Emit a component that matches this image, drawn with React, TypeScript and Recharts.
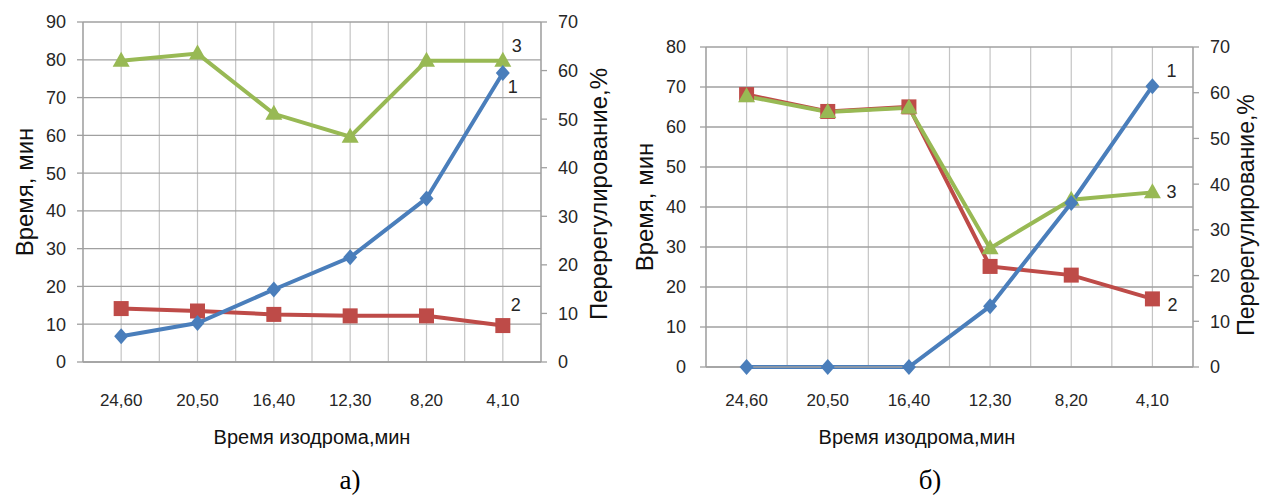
import React from "react";
import { LineChart, Line, XAxis, YAxis, CartesianGrid, LabelList } from "recharts";

const categories = ["24,60", "20,50", "16,40", "12,30", "8,20", "4,10"];

// panel а)
const timeA = [6.8, 10.3, 19.2, 27.7, 43.3, 76.5];
const curve2A = [11.0, 10.5, 9.8, 9.5, 9.5, 7.5];
const curve3A = [62.0, 63.5, 51.1, 46.4, 62.0, 62.0];
const leftTicksA = [0, 10, 20, 30, 40, 50, 60, 70, 80, 90];

// panel б)
const timeB = [0, 0, 0, 15.2, 41, 70.2];
const curve2B = [59.6, 55.9, 56.9, 22.0, 20.1, 14.9];
const curve3B = [59.2, 55.8, 56.7, 26.0, 36.6, 38.2];
const leftTicksB = [0, 10, 20, 30, 40, 50, 60, 70, 80];

const rightTicks = [0, 10, 20, 30, 40, 50, 60, 70];

const BLUE = "#4A7EBB";
const RED = "#BE4B48";
const GREEN = "#98B954";
const FONT = "'Liberation Sans', Arial, sans-serif";
const TEXT = "#262626";

// half-step ticks so the grid gets lines at centres and boundaries
const xTicks = categories.flatMap((_, i) => [i - 0.5, i]).concat(categories.length - 0.5);
const xLabel = (v: number) => (Number.isInteger(v) ? categories[v] ?? "" : "");

const buildRows = (s1: number[], s2: number[], s3: number[]) =>
  categories.map((c, i) => ({ x: i, cat: c, s1: s1[i], s2: s2[i], s3: s3[i] }));

const diamond = (p: any) =>
  p.cx == null ? null : (
    <path
      key={`d${p.index}`}
      d={`M${p.cx},${p.cy - 8}L${p.cx + 7},${p.cy}L${p.cx},${p.cy + 8}L${p.cx - 7},${p.cy}Z`}
      fill={BLUE}
    />
  );

const square = (p: any) =>
  p.cx == null ? null : (
    <rect key={`s${p.index}`} x={p.cx - 7.5} y={p.cy - 7.5} width={15} height={15} fill={RED} />
  );

const triangle = (p: any) =>
  p.cx == null ? null : (
    <path
      key={`t${p.index}`}
      d={`M${p.cx},${p.cy - 9}L${p.cx + 8.5},${p.cy + 6}L${p.cx - 8.5},${p.cy + 6}Z`}
      fill={GREEN}
    />
  );

const endLabel = (text: string, dx: number, dy: number) => (props: any) => {
  if (props.index !== categories.length - 1) return null;
  const x = props.x ?? props.viewBox?.x;
  const y = props.y ?? props.viewBox?.y;
  return (
    <text
      x={x + dx}
      y={y + dy}
      textAnchor="middle"
      dominantBaseline="central"
      fontSize={18}
      fontFamily={FONT}
      fill={TEXT}
    >
      {text}
    </text>
  );
};

interface PanelProps {
  rows: ReturnType<typeof buildRows>;
  width: number;
  margin: { top: number; right: number; bottom: number; left: number };
  leftMax: number;
  leftTicks: number[];
  leftWidth: number;
  leftTickMargin: number;
  rightWidth: number;
  xTickMargin: number;
  labels: { s1: [number, number]; s2: [number, number]; s3: [number, number] };
}

function Panel(p: PanelProps) {
  const tick = { fontSize: 17, fill: TEXT, fontFamily: FONT };
  return (
    <LineChart width={p.width} height={497} data={p.rows} margin={p.margin}>
      <CartesianGrid yAxisId="left" horizontal={false} stroke="#C4C4C4" strokeWidth={1.2} />
      <CartesianGrid yAxisId="left" vertical={false} stroke="#A0A0A0" strokeWidth={1.3} />
      <XAxis
        dataKey="x"
        type="number"
        domain={[-0.5, categories.length - 0.5]}
        ticks={xTicks}
        interval={0}
        tickFormatter={xLabel}
        tickLine={false}
        axisLine={{ stroke: "#A0A0A0", strokeWidth: 1.3 }}
        tick={tick}
        tickMargin={p.xTickMargin}
        height={30}
      />
      <YAxis
        yAxisId="left"
        domain={[0, p.leftMax]}
        ticks={p.leftTicks}
        interval={0}
        width={p.leftWidth}
        tick={{ ...tick, fontSize: 18 }}
        tickMargin={p.leftTickMargin}
        tickLine={{ stroke: "#A0A0A0", strokeWidth: 1.3 }}
        axisLine={{ stroke: "#A0A0A0", strokeWidth: 1.3 }}
      />
      <YAxis
        yAxisId="right"
        orientation="right"
        domain={[0, 70]}
        ticks={rightTicks}
        interval={0}
        width={p.rightWidth}
        tick={{ ...tick, fontSize: 18 }}
        tickMargin={11}
        tickLine={{ stroke: "#A0A0A0", strokeWidth: 1.3 }}
        axisLine={{ stroke: "#A0A0A0", strokeWidth: 1.3 }}
      />
      <Line
        yAxisId="right"
        dataKey="s2"
        stroke={RED}
        strokeWidth={4}
        dot={square}
        activeDot={false}
        isAnimationActive={false}
      >
        <LabelList dataKey="s2" content={endLabel("2", p.labels.s2[0], p.labels.s2[1])} />
      </Line>
      <Line
        yAxisId="right"
        dataKey="s3"
        stroke={GREEN}
        strokeWidth={4}
        dot={triangle}
        activeDot={false}
        isAnimationActive={false}
      >
        <LabelList dataKey="s3" content={endLabel("3", p.labels.s3[0], p.labels.s3[1])} />
      </Line>
      <Line
        yAxisId="left"
        dataKey="s1"
        stroke={BLUE}
        strokeWidth={4}
        dot={diamond}
        activeDot={false}
        isAnimationActive={false}
      >
        <LabelList dataKey="s1" content={endLabel("1", p.labels.s1[0], p.labels.s1[1])} />
      </Line>
    </LineChart>
  );
}

const abs = (left: number, top: number, extra: React.CSSProperties = {}): React.CSSProperties => ({
  position: "absolute",
  left,
  top,
  transform: "translate(-50%, -50%)",
  whiteSpace: "nowrap",
  fontFamily: FONT,
  color: "#111",
  lineHeight: 1,
  ...extra,
});

const vertical = (left: number, top: number, size: number): React.CSSProperties =>
  abs(left, top, { transform: "translate(-50%, -50%) rotate(-90deg)", fontSize: size });

export default function App() {
  return (
    <div style={{ position: "absolute", left: 0, top: 0, width: 1261, height: 497, background: "#fff", overflow: "hidden" }}>
      <div style={{ position: "absolute", left: 0, top: 0 }}>
        <Panel
          rows={buildRows(timeA, curve2A, curve3A)}
          width={630}
          margin={{ top: 22, right: 0, bottom: 105, left: 0 }}
          leftMax={90}
          leftTicks={leftTicksA}
          leftWidth={83}
          leftTickMargin={11}
          rightWidth={89}
          xTickMargin={26}
          labels={{ s1: [10, 14], s2: [13, -21], s3: [14, -15] }}
        />
      </div>
      <div style={{ position: "absolute", left: 630, top: 0 }}>
        <Panel
          rows={buildRows(timeB, curve2B, curve3B)}
          width={631}
          margin={{ top: 47, right: 0, bottom: 100, left: 0 }}
          leftMax={80}
          leftTicks={leftTicksB}
          leftWidth={76}
          leftTickMargin={14}
          rightWidth={68}
          xTickMargin={21}
          labels={{ s1: [19, -15], s2: [20, 6], s3: [19, 0] }}
        />
      </div>

      <div style={vertical(25, 192, 24)}>Время, мин</div>
      <div style={vertical(599, 194, 24)}>Перерегулирование,%</div>
      <div style={abs(312, 437, { fontSize: 20 })}>Время изодрома,мин</div>
      <div style={abs(350, 480, { fontSize: 27, fontFamily: "'Liberation Serif', serif", color: "#000" })}>а)</div>

      <div style={vertical(645, 207, 24)}>Время, мин</div>
      <div style={vertical(1246, 215, 23)}>Перерегулирование,%</div>
      <div style={abs(917, 437, { fontSize: 20 })}>Время изодрома,мин</div>
      <div style={abs(930, 480, { fontSize: 27, fontFamily: "'Liberation Serif', serif", color: "#000" })}>б)</div>
    </div>
  );
}
